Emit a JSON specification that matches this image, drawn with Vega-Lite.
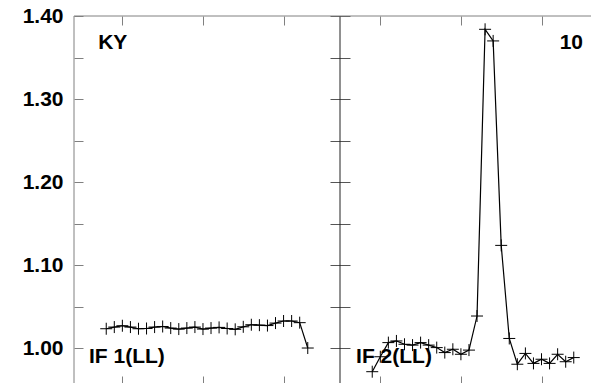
{
  "$schema": "https://vega.github.io/schema/vega-lite/v6.json",
  "width": 532,
  "height": 369,
  "autosize": {"type": "none"},
  "padding": {"left": 74, "top": 16, "right": 0, "bottom": 0},
  "background": "white",
  "config": {"view": {"stroke": null}, "axis": {"grid": false, "title": null}},
  "resolve": {"scale": {"x": "independent", "y": "independent"}},
  "layer": [
    {
      "data": {"values": [
        {"panel": "IF1", "x": 4, "y": 1.0237},
        {"panel": "IF1", "x": 5, "y": 1.0257},
        {"panel": "IF1", "x": 6, "y": 1.0273},
        {"panel": "IF1", "x": 7, "y": 1.0257},
        {"panel": "IF1", "x": 8, "y": 1.0237},
        {"panel": "IF1", "x": 9, "y": 1.0240},
        {"panel": "IF1", "x": 10, "y": 1.0257},
        {"panel": "IF1", "x": 11, "y": 1.0264},
        {"panel": "IF1", "x": 12, "y": 1.0245},
        {"panel": "IF1", "x": 13, "y": 1.0233},
        {"panel": "IF1", "x": 14, "y": 1.0245},
        {"panel": "IF1", "x": 15, "y": 1.0257},
        {"panel": "IF1", "x": 16, "y": 1.0233},
        {"panel": "IF1", "x": 17, "y": 1.0245},
        {"panel": "IF1", "x": 18, "y": 1.0253},
        {"panel": "IF1", "x": 19, "y": 1.0240},
        {"panel": "IF1", "x": 20, "y": 1.0230},
        {"panel": "IF1", "x": 21, "y": 1.0260},
        {"panel": "IF1", "x": 22, "y": 1.0285},
        {"panel": "IF1", "x": 23, "y": 1.0280},
        {"panel": "IF1", "x": 24, "y": 1.0275},
        {"panel": "IF1", "x": 25, "y": 1.0305},
        {"panel": "IF1", "x": 26, "y": 1.0330},
        {"panel": "IF1", "x": 27, "y": 1.0330},
        {"panel": "IF1", "x": 28, "y": 1.0310},
        {"panel": "IF1", "x": 29, "y": 1.0005},
        {"panel": "IF2", "x": 37, "y": 0.972},
        {"panel": "IF2", "x": 38, "y": 0.990},
        {"panel": "IF2", "x": 39, "y": 1.007},
        {"panel": "IF2", "x": 40, "y": 1.009},
        {"panel": "IF2", "x": 41, "y": 1.005},
        {"panel": "IF2", "x": 42, "y": 1.004},
        {"panel": "IF2", "x": 43, "y": 1.007},
        {"panel": "IF2", "x": 44, "y": 1.004},
        {"panel": "IF2", "x": 45, "y": 1.001},
        {"panel": "IF2", "x": 46, "y": 0.995},
        {"panel": "IF2", "x": 47, "y": 0.999},
        {"panel": "IF2", "x": 48, "y": 0.993},
        {"panel": "IF2", "x": 49, "y": 0.998},
        {"panel": "IF2", "x": 50, "y": 1.039},
        {"panel": "IF2", "x": 51, "y": 1.384},
        {"panel": "IF2", "x": 52, "y": 1.370},
        {"panel": "IF2", "x": 53, "y": 1.124},
        {"panel": "IF2", "x": 54, "y": 1.012},
        {"panel": "IF2", "x": 55, "y": 0.981},
        {"panel": "IF2", "x": 56, "y": 0.994},
        {"panel": "IF2", "x": 57, "y": 0.982},
        {"panel": "IF2", "x": 58, "y": 0.987},
        {"panel": "IF2", "x": 59, "y": 0.982},
        {"panel": "IF2", "x": 60, "y": 0.993},
        {"panel": "IF2", "x": 61, "y": 0.984},
        {"panel": "IF2", "x": 62, "y": 0.989}
      ]},
      "encoding": {
        "x": {"field": "x", "type": "quantitative",
          "scale": {"domain": [0, 66], "nice": false, "zero": false},
          "axis": {"orient": "bottom", "offset": -9, "values": [6, 16, 26, 38, 48, 58], "labels": false, "tickSize": 9,
            "domain": false, "tickColor": "#808080", "title": null}},
        "y": {"field": "y", "type": "quantitative",
          "scale": {"domain": [0.956, 1.40], "nice": false, "zero": false},
          "axis": {"orient": "left", "offset": -9, "values": [1.0, 1.05, 1.1, 1.15, 1.2, 1.25, 1.3, 1.35, 1.4],
            "labelExpr": "round(datum.value*100) % 10 == 0 ? format(datum.value, '.2f') : ''",
            "tickSize": 9, "labelPadding": 11, "labelOverlap": false, "labelFlush": false,
            "labelFont": "Liberation Sans", "labelFontWeight": "bold", "labelFontSize": 21, "labelColor": "black",
            "domain": false, "tickColor": "#808080", "title": null}}
      },
      "layer": [
        {"mark": {"type": "line", "color": "black", "strokeWidth": 1.2}, "encoding": {"detail": {"field": "panel"}}},
        {"mark": {"type": "point", "shape": "M-1,0L1,0M0,-1L0,1", "size": 144, "filled": false, "stroke": "black", "strokeWidth": 1, "opacity": 1}}
      ]
    },
    {
      "layer": [
        {
          "data": {"values": [{"x": 33}]},
          "mark": {"type": "rule", "color": "#222", "strokeWidth": 1},
          "encoding": {
            "x": {"field": "x", "type": "quantitative",
              "scale": {"domain": [0, 66], "nice": false, "zero": false},
              "axis": {"orient": "top", "offset": -9, "values": [6, 16, 26, 38, 48, 58], "labels": false, "tickSize": 9,
                "domain": false, "tickColor": "#808080", "title": null}},
            "y": {"datum": 0.956, "type": "quantitative",
              "scale": {"domain": [0.956, 1.40], "nice": false, "zero": false},
              "axis": {"orient": "right", "offset": -276, "values": [1.0, 1.05, 1.1, 1.15, 1.2, 1.25, 1.3, 1.35, 1.4],
                "labels": false, "domain": false, "tickSize": 20, "tickColor": "#555555", "title": null}},
            "y2": {"datum": 1.40}
          }
        },
        {
          "data": {"values": [{"edge": "left"}]},
          "mark": {"type": "rule", "color": "#808080", "strokeWidth": 1},
          "encoding": {"x": {"datum": 0, "type": "quantitative"}}
        },
        {
          "data": {"values": [{"edge": "top"}]},
          "mark": {"type": "rule", "color": "#808080", "strokeWidth": 1},
          "encoding": {"y": {"datum": 1.40, "type": "quantitative"}}
        },
        {
          "data": {"values": [
            {"x": 3, "y": 1.360, "label": "KY"},
            {"x": 1.86, "y": 0.9826, "label": "IF 1(LL)"},
            {"x": 35, "y": 0.9826, "label": "IF 2(LL)"}
          ]},
          "mark": {"type": "text", "align": "left", "baseline": "alphabetic", "font": "Liberation Sans", "fontWeight": "bold", "fontSize": 21, "color": "black"},
          "encoding": {
            "x": {"field": "x", "type": "quantitative", "scale": {"domain": [0, 66], "nice": false, "zero": false}},
            "y": {"field": "y", "type": "quantitative", "scale": {"domain": [0.956, 1.40], "nice": false, "zero": false}},
            "text": {"field": "label"}
          }
        },
        {
          "data": {"values": [
            {"x": 63.15, "y": 1.360, "label": "10"}
          ]},
          "mark": {"type": "text", "align": "right", "baseline": "alphabetic", "font": "Liberation Sans", "fontWeight": "bold", "fontSize": 21, "color": "black"},
          "encoding": {
            "x": {"field": "x", "type": "quantitative", "scale": {"domain": [0, 66], "nice": false, "zero": false}},
            "y": {"field": "y", "type": "quantitative", "scale": {"domain": [0.956, 1.40], "nice": false, "zero": false}},
            "text": {"field": "label"}
          }
        }
      ]
    }
  ]
}
